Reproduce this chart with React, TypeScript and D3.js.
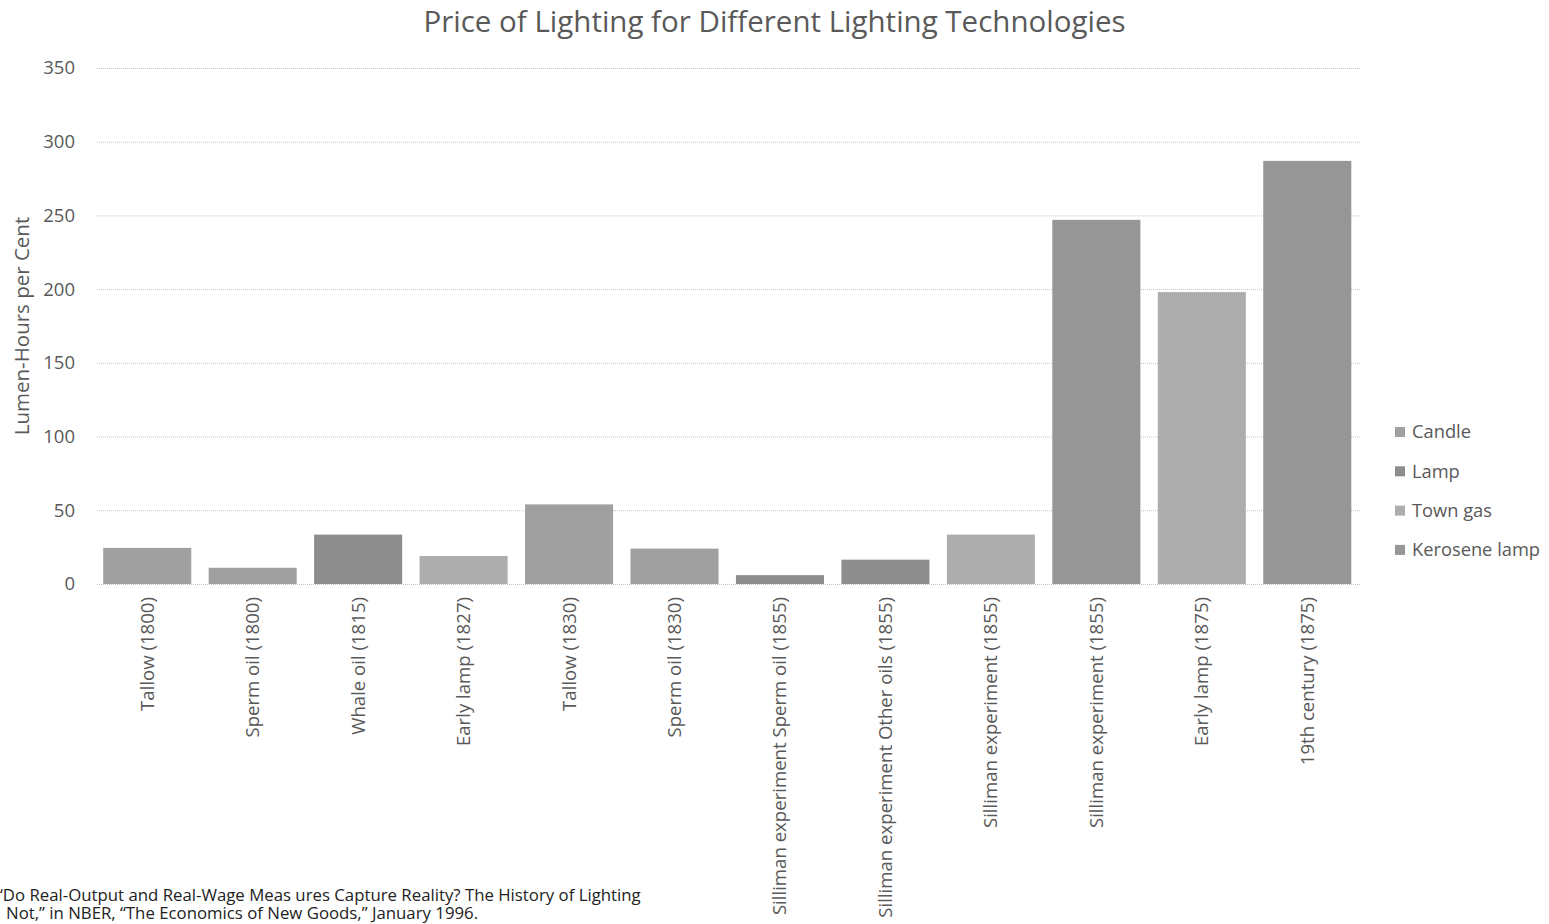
import React, { useEffect, useRef } from 'react';
import * as d3 from 'd3';

const W = 1549;
const H = 924;
const margin = { left: 97, right: 189, top: 68, bottom: 340 };
const width = W - margin.left - margin.right;
const height = H - margin.top - margin.bottom;

const categories = [
  'Tallow (1800)', 'Sperm oil (1800)', 'Whale oil (1815)', 'Early lamp (1827)',
  'Tallow (1830)', 'Sperm oil (1830)', 'Silliman experiment Sperm oil (1855)',
  'Silliman experiment Other oils (1855)', 'Silliman experiment (1855)',
  'Silliman experiment (1855)', 'Early lamp (1875)', '19th century (1875)',
];
const values = [24.5, 11, 33.5, 19, 54, 24, 6, 16.5, 33.5, 247, 198, 287];
const seriesOf = ['Candle', 'Candle', 'Lamp', 'Town gas', 'Candle', 'Candle', 'Lamp', 'Lamp', 'Town gas', 'Kerosene lamp', 'Town gas', 'Kerosene lamp'];
const seriesNames = ['Candle', 'Lamp', 'Town gas', 'Kerosene lamp'];
const seriesColors = ['#a0a0a0', '#8d8d8d', '#adadad', '#969696'];
const yTicks = [0, 50, 100, 150, 200, 250, 300, 350];

const font = '"Open Sans", "Noto Sans", sans-serif';

export default function App() {
  const ref = useRef<SVGSVGElement>(null);

  useEffect(() => {
    const svg = d3.select(ref.current);
    svg.selectAll('*').remove();

    const y = d3.scaleLinear().domain([0, 350]).range([height, 0]);
    // category slots span slightly left of the gridlines, as in the original
    const x = d3.scaleBand<number>()
      .domain(d3.range(categories.length))
      .range([-2.5, width])
      .paddingInner(0.165)
      .paddingOuter(0.0825);
    const color = d3.scaleOrdinal<string, string>().domain(seriesNames).range(seriesColors);

    svg.append('text')
      .attr('x', W / 2)
      .attr('y', 32)
      .attr('text-anchor', 'middle')
      .attr('font-family', font)
      .attr('font-size', 29.5)
      .attr('fill', '#595959')
      .text('Price of Lighting for Different Lighting Technologies');

    const g = svg.append('g').attr('transform', `translate(${margin.left},${margin.top})`);

    // gridlines
    g.append('g').selectAll('line')
      .data(yTicks)
      .enter().append('line')
      .attr('x1', 0)
      .attr('x2', width)
      .attr('y1', d => y(d) + 0.5)
      .attr('y2', d => y(d) + 0.5)
      .attr('stroke', '#c4c4c4')
      .attr('stroke-dasharray', '1,1');

    g.append('g').selectAll('text')
      .data(yTicks)
      .enter().append('text')
      .attr('x', -22)
      .attr('y', d => y(d))
      .attr('dy', '0.35em')
      .attr('text-anchor', 'end')
      .attr('font-family', font)
      .attr('font-size', 18.5)
      .attr('fill', '#595959')
      .text(d => d);

    g.selectAll('rect')
      .data(values)
      .enter().append('rect')
      .attr('x', (d, i) => x(i)!)
      .attr('y', d => y(d))
      .attr('width', x.bandwidth())
      .attr('height', d => height - y(d))
      .attr('fill', (d, i) => color(seriesOf[i]));

    // x labels
    g.append('g').selectAll('text')
      .data(categories)
      .enter().append('text')
      .attr('transform', (d, i) => `translate(${x(i)! + x.bandwidth() / 2},${height + 13}) rotate(-90)`)
      .attr('dy', '0.35em')
      .attr('text-anchor', 'end')
      .attr('font-family', font)
      .attr('font-size', 18.6)
      .attr('fill', '#595959')
      .text(d => d);

    svg.append('text')
      .attr('transform', `translate(29,${326}) rotate(-90)`)
      .attr('text-anchor', 'middle')
      .attr('font-family', font)
      .attr('font-size', 20.5)
      .attr('fill', '#595959')
      .text('Lumen-Hours per Cent');

    const legend = svg.append('g').attr('transform', 'translate(1395,432)');
    const items = legend.selectAll('g')
      .data(seriesNames)
      .enter().append('g')
      .attr('transform', (d, i) => `translate(0,${i * 39.3})`);
    items.append('rect')
      .attr('x', 0).attr('y', -5).attr('width', 10).attr('height', 10)
      .attr('fill', d => color(d));
    items.append('text')
      .attr('x', 17)
      .attr('dy', '0.35em')
      .attr('font-family', font)
      .attr('font-size', 18.3)
      .attr('fill', '#595959')
      .text(d => d);

    // source note, cut at the left edge like the original
    svg.append('text')
      .attr('x', -3).attr('y', 901)
      .attr('font-family', font)
      .attr('font-size', 16.8)
      .attr('fill', '#222')
      .text('\u201CDo Real-Output and Real-Wage Meas ures Capture Reality? The History of Lighting');
    svg.append('text')
      .attr('x', 6).attr('y', 919)
      .attr('font-family', font)
      .attr('font-size', 16.8)
      .attr('fill', '#222')
      .text('Not,\u201D in NBER, \u201CThe Economics of New Goods,\u201D January 1996.');
  }, []);

  return <svg ref={ref} width={W} height={H} style={{ position: 'absolute', left: 0, top: 0, background: '#fff' }} />;
}
